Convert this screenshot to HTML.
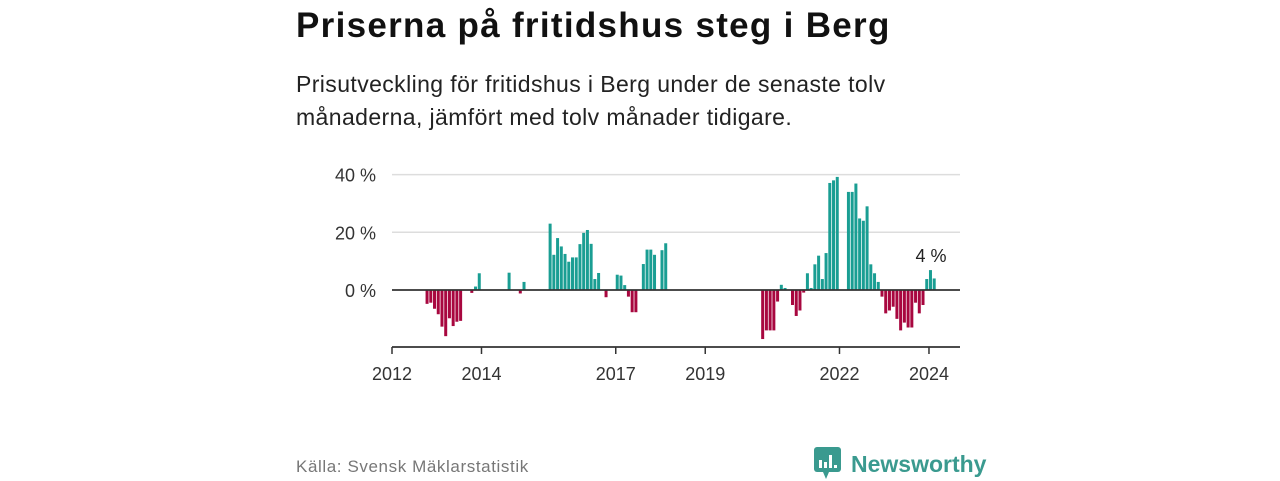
<!DOCTYPE html>
<html><head><meta charset="utf-8">
<style>
body{margin:0;width:1280px;height:480px;background:#fff;font-family:"Liberation Sans","DejaVu Sans",sans-serif;overflow:hidden;position:relative}
.t{position:absolute;left:296px;top:6px;font-size:35px;font-weight:bold;color:#111;letter-spacing:1.3px}
.s{position:absolute;left:296px;top:68px;font-size:23px;line-height:33px;color:#222;width:665px;letter-spacing:0.4px}
.f{position:absolute;left:296px;top:457px;font-size:17px;color:#777;letter-spacing:0.6px}
.logo{position:absolute;left:814px;top:447px;display:flex;align-items:center;color:#3a9a8f;font-size:23px;font-weight:bold}
</style></head><body>
<div class="t">Priserna på fritidshus steg i Berg</div>
<div class="s">Prisutveckling för fritidshus i Berg under de senaste tolv månaderna, jämfört med tolv månader tidigare.</div>
<svg id="ch" width="1280" height="480" style="position:absolute;left:0;top:0"></svg>
<div class="f">Källa: Svensk Mäklarstatistik</div>
<div class="logo">
<svg width="28" height="34" viewBox="0 0 28 34"><rect x="0" y="0" width="27" height="25" rx="3" fill="#3a9a8f"/><polygon points="9,25 15,25 12,32" fill="#3a9a8f"/><rect x="5" y="13" width="3" height="8" fill="#fff"/><rect x="10" y="15" width="3" height="6" fill="#fff"/><rect x="15" y="8" width="3" height="13" fill="#fff"/><rect x="20" y="18" width="3" height="3" fill="#fff"/></svg>
<span style="margin-left:9px">Newsworthy</span></div>
<script>
const idxs=[9,10,11,12,13,14,15,16,17,18,21,22,23,31,34,35,42,43,44,45,46,47,48,49,50,51,52,53,54,55,57,60,61,62,63,64,65,67,68,69,70,72,73,
99,100,101,102,103,104,105,107,108,109,110,111,112,113,114,115,116,117,118,119,122,123,124,125,126,127,128,129,130,131,132,133,134,135,136,137,138,139,140,141,142,143,144,145];
const values=[-4.8,-4.4,-6.5,-8.4,-12.7,-16,-9.8,-12.5,-11,-10.7,-1,1.2,5.8,6,-1.2,2.8,23,12.2,18,15.1,12.5,9.8,11.3,11.3,15.9,19.8,20.8,16,3.8,5.9,-2.5,5.3,5,1.7,-2.3,-7.7,-7.7,9,14,14,12.2,13.8,16.2,
-17,-14,-14,-14,-4,1.8,0.7,-5.2,-9,-7.1,-0.9,5.8,0.7,8.9,11.9,3.8,12.8,37.1,38,39.2,34,34,36.9,24.8,24,29,8.9,5.8,2.8,-2.3,-8.1,-7.1,-5.8,-10,-14,-11.3,-13,-13,-4.4,-8.1,-5.2,3.8,6.9,4];
const yTicks=[0,20,40];
const xYears=[2012,2014,2017,2019,2022,2024];
const lastLabel="4 %";
const NS="http://www.w3.org/2000/svg";
const svg=document.getElementById('ch');
const X=i=>392+i*3.729;
const Y=v=>290-v*2.885;
function mk(t,a){const e=document.createElementNS(NS,t);for(const k in a)e.setAttribute(k,a[k]);svg.appendChild(e);return e;}
yTicks.forEach(v=>{
 if(v!==0){const g=mk('line',{x1:392,x2:960,y1:Y(v),y2:Y(v),stroke:'#ddd','stroke-width':1.5});
 
 }
 const t=mk('text',{x:376,y:Y(v)+7,'text-anchor':'end','font-size':18,fill:'#333'});
 t.textContent=v+' %';
 
 
});
idxs.forEach((i,k)=>{const v=values[k];
 const r=mk('rect',{x:X(i),y:v>=0?Y(v):Y(0),width:3,height:Math.abs(v*2.885),fill:v>=0?'#1a9e93':'#a8073f'});
 
 
});
const z=mk('line',{x1:392,x2:960,y1:Y(0),y2:Y(0),stroke:'#333','stroke-width':1.8});


const ax=mk('line',{x1:392,x2:960,y1:347,y2:347,stroke:'#333','stroke-width':1.8});


xYears.forEach(y=>{const x=X((y-2012)*12);
 const tk=mk('line',{x1:x,x2:x,y1:347,y2:354,stroke:'#333','stroke-width':1.5});
 
 
 const t=mk('text',{x:x,y:380,'text-anchor':'middle','font-size':18,fill:'#333'});
 t.textContent=y;
 
 
});
const li=idxs.length-2;
const lb=mk('text',{x:X(idxs[li])+2,y:Y(values[li])-8,'text-anchor':'middle','font-size':18,fill:'#222'});
lb.textContent=lastLabel;


</script>
</body></html>
